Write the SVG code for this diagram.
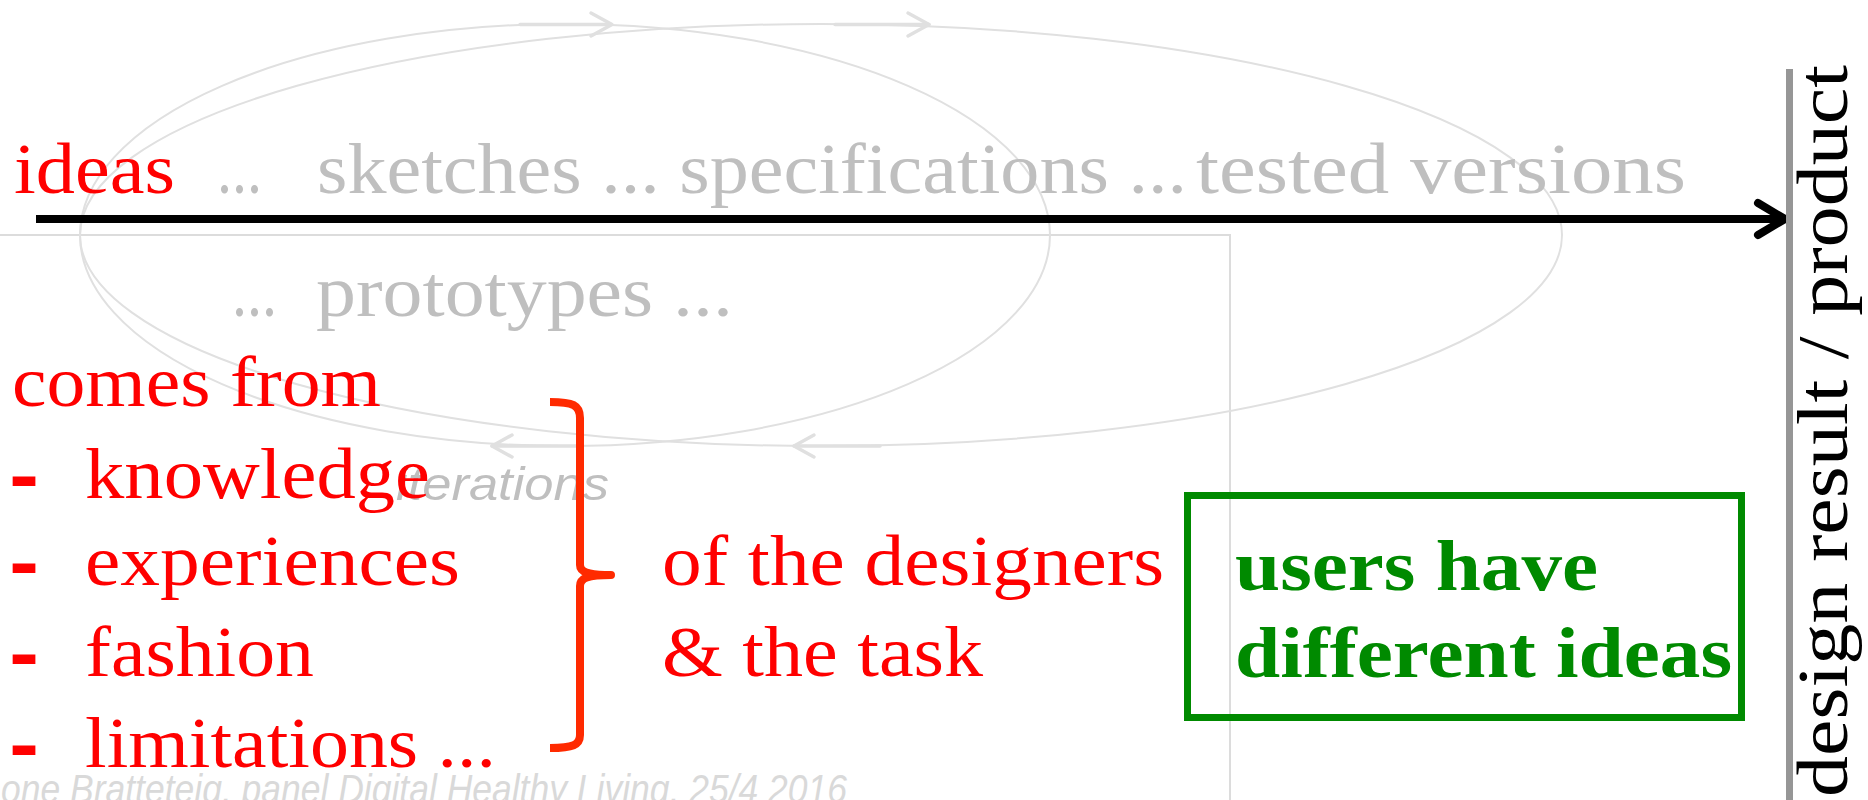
<svg xmlns="http://www.w3.org/2000/svg" width="1868" height="800" viewBox="0 0 1868 800">
  <style>
    .serif { font-family: "Liberation Serif", "Times New Roman", serif; font-size: 72px; }
    .red { fill: #ff0000; }
    .grey { fill: #bfbfbf; }
    .dash { fill: #ff0000; stroke: #ff0000; stroke-width: 4px; }
    .green { fill: #008a00; font-weight: bold; }
    .note { font-family: "Liberation Sans", Arial, sans-serif; font-style: italic; }
    .loop { fill: none; stroke: #e0e0e0; stroke-width: 2; }
    .loop-head { fill: none; stroke: #e0e0e0; stroke-width: 3.5; stroke-linecap: round; stroke-linejoin: round; }
  </style>

  <!-- background frame lines -->
  <polyline points="0,235 1230,235 1230,800" fill="none" stroke="#dcdcdc" stroke-width="2"/>

  <!-- footer credit -->
  <text class="note" x="1" y="803" font-size="40" fill="#d9d9d9" textLength="846" lengthAdjust="spacingAndGlyphs">one Bratteteig, panel Digital Healthy Living, 25/4 2016</text>

  <!-- connectors: iteration loops and the main timeline -->
  <g id="connectors">
    <ellipse class="loop" cx="565" cy="235" rx="485" ry="211"/>
    <ellipse class="loop" cx="821" cy="235" rx="741" ry="211"/>
    <!-- arrow shafts and heads on the loops -->
    <line class="loop-head" x1="520" y1="24.5" x2="611" y2="24.5" stroke-width="3"/>
    <polyline class="loop-head" points="591,13 612,24.5 591,36"/>
    <line class="loop-head" x1="835" y1="24.5" x2="929" y2="24.5" stroke-width="3"/>
    <polyline class="loop-head" points="908,13 929,24.5 908,36"/>
    <line class="loop-head" x1="492" y1="446" x2="580" y2="446" stroke-width="3"/>
    <polyline class="loop-head" points="512,435 492,446 512,457"/>
    <line class="loop-head" x1="794" y1="446" x2="880" y2="446" stroke-width="3"/>
    <polyline class="loop-head" points="814,435 794,446 814,457"/>
    <!-- timeline -->
    <line x1="36" y1="219" x2="1782" y2="219" stroke="#000" stroke-width="8"/>
    <polyline points="1758,203 1785,219 1758,235" fill="none" stroke="#000" stroke-width="8" stroke-linecap="round" stroke-linejoin="round"/>
  </g>

  <!-- loop label -->
  <g id="iterations">
    <text class="note grey" x="396" y="500" font-size="46" textLength="213" lengthAdjust="spacingAndGlyphs">iterations</text>
  </g>

  <!-- starting point of the timeline -->
  <g id="ideas">
    <text class="serif red" x="14" y="193" textLength="161" lengthAdjust="spacingAndGlyphs">ideas</text>
  </g>

  <!-- intermediate design stages -->
  <g id="stages">
    <text class="serif grey" x="217" y="193" textLength="45" lengthAdjust="spacingAndGlyphs">...</text>
    <text class="serif grey" x="317" y="193" textLength="870" lengthAdjust="spacingAndGlyphs">sketches ... specifications ...</text>
    <text class="serif grey" x="1196" y="193" textLength="490" lengthAdjust="spacingAndGlyphs">tested versions</text>
    <text class="serif grey" x="232" y="316" textLength="45" lengthAdjust="spacingAndGlyphs">...</text>
    <text class="serif grey" x="316" y="316" textLength="417" lengthAdjust="spacingAndGlyphs">prototypes ...</text>
  </g>

  <!-- where ideas come from -->
  <g id="sources">
    <text class="serif red" x="12" y="406" textLength="369" lengthAdjust="spacingAndGlyphs">comes from</text>
    <text class="serif dash" x="12" y="498">-</text>
    <text class="serif red" x="85" y="498" textLength="345" lengthAdjust="spacingAndGlyphs">knowledge</text>
    <text class="serif dash" x="12" y="585">-</text>
    <text class="serif red" x="85" y="585" textLength="375" lengthAdjust="spacingAndGlyphs">experiences</text>
    <text class="serif dash" x="12" y="676">-</text>
    <text class="serif red" x="85" y="676" textLength="229" lengthAdjust="spacingAndGlyphs">fashion</text>
    <text class="serif dash" x="12" y="767">-</text>
    <text class="serif red" x="85" y="767" textLength="411" lengthAdjust="spacingAndGlyphs">limitations ...</text>
  </g>

  <!-- grouping brace -->
  <g id="brace">
    <path d="M550,402 C573,402 580,405 580,418 L580,565 C580,572 588,575 611,575 C588,575 580,578 580,586 L580,735 C580,745 573,748 550,748" fill="none" stroke="#ff2a00" stroke-width="8" stroke-linecap="butt" stroke-linejoin="round"/>
  </g>

  <g id="context">
    <text class="serif red" x="662" y="585" textLength="502" lengthAdjust="spacingAndGlyphs">of the designers</text>
    <text class="serif red" x="662" y="676" textLength="321" lengthAdjust="spacingAndGlyphs">&amp; the task</text>
  </g>

  <!-- users' view -->
  <g id="users">
    <rect x="1187.5" y="495.5" width="554" height="222" fill="none" stroke="#008a00" stroke-width="7"/>
    <text class="serif green" x="1235" y="590" textLength="363" lengthAdjust="spacingAndGlyphs">users have</text>
    <text class="serif green" x="1235" y="677" textLength="497" lengthAdjust="spacingAndGlyphs">different ideas</text>
  </g>

  <!-- end of the timeline -->
  <g id="result">
    <rect x="1786" y="69" width="7" height="731" fill="#969696"/>
    <text class="serif" x="0" y="0" font-size="80" fill="#000" transform="translate(1847,797) rotate(-90)" textLength="732" lengthAdjust="spacingAndGlyphs">design result / product</text>
  </g>
</svg>
